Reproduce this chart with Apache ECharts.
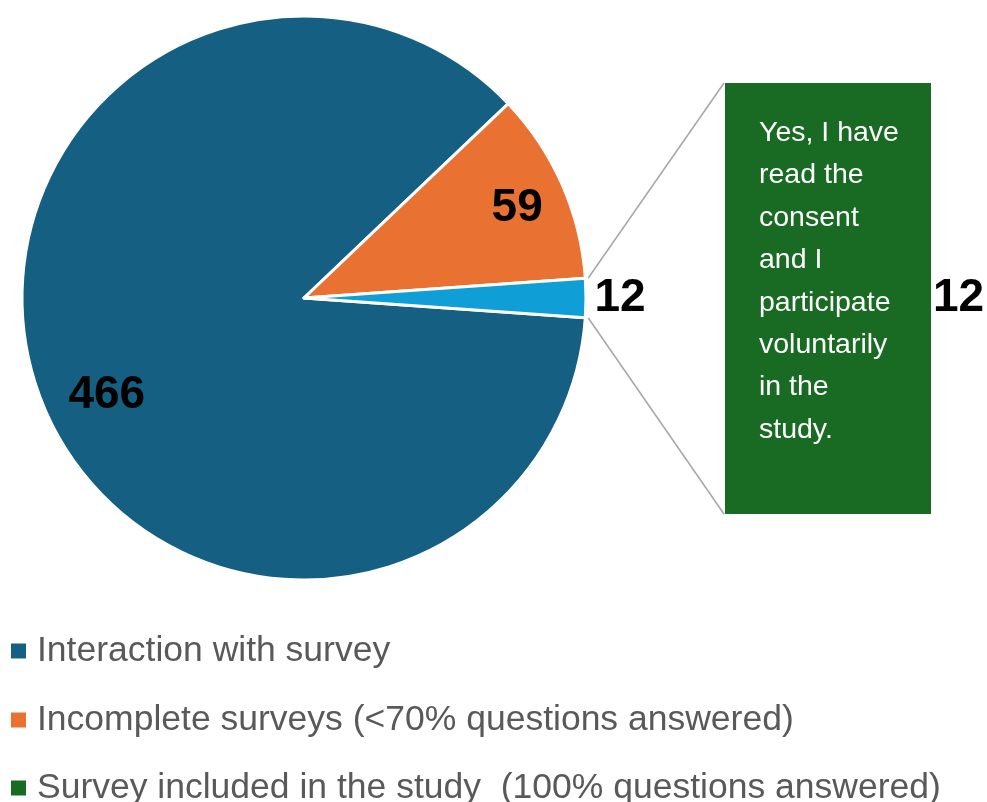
<!DOCTYPE html>
<html>
<head>
<meta charset="utf-8">
<script src="https://cdn.jsdelivr.net/npm/echarts@6/dist/echarts.min.js"></script>
<style>
  html, body { margin: 0; padding: 0; background: #ffffff; }
  #chart { width: 987px; height: 802px; }
</style>
</head>
<body>
<div id="chart"></div>
<script>
// Survey funnel: pie of all interactions, with the included surveys broken out as a bar
const pieNames = ['Interaction with survey', 'Incomplete surveys (<70% questions answered)', 'Other'];
const pieValues = [466, 59, 12];
const consentLines = ['Yes, I have', 'read the', 'consent', 'and I', 'participate', 'voluntarily', 'in the', 'study.'];
const barCategories = [consentLines.join(' ')];
const barValues = [12];
const barSeriesName = 'Survey included in the study  (100% questions answered)';
const legendNames = [pieNames[0], pieNames[1], barSeriesName];

const colors = {
  blue: '#156082', orange: '#E97132', green: '#196B24', light: '#0F9ED5',
  connector: '#a6a6a6', legendText: '#595959'
};
const FONT = '"Liberation Sans", Arial, sans-serif';

// Layout of the pie and of the bar panel
const cx = 304, cy = 298, R = 282;
const barGrid = { left: 725, top: 83, width: 206, height: 431 };
// Vertical centres of the stacked legend rows
const legendRowY = [648, 717, 785];

// Angles: the broken-out slice sits centred on the horizontal axis at the right
const total = pieValues.reduce((a, b) => a + b, 0);
const lastSpan = 360 * pieValues[pieValues.length - 1] / total;
const startAngle = -lastSpan / 2;
const midAngles = [];
let cum = 0;
pieValues.forEach(v => {
  midAngles.push(startAngle - (cum + v / 2) / total * 360);
  cum += v;
});

// Per-slice label placement: angular shift (deg), radial fraction, alignment
const labelPlace = [
  { shift: 6.5, frac: 0.78, align: 'center' },
  { shift: -1, frac: 0.82, align: 'center' },
  { shift: 0, frac: 1.03, align: 'left' }
];

const rad = d => d * Math.PI / 180;
const polar = (deg, r) => [cx + r * Math.cos(rad(deg)), cy - r * Math.sin(rad(deg))];

// Connector lines from the broken-out slice edges to the bar corners
const edgeTop = polar(startAngle + lastSpan, R + 3);
const edgeBottom = polar(startAngle, R + 3);
const barTopLeft = [barGrid.left - 1, barGrid.top];
const barBottomLeft = [barGrid.left - 1, barGrid.top + barGrid.height];

// One legend row per entry, stacked down the left edge
const legends = legendNames.map((name, i) => ({
  data: [name],
  orient: 'vertical',
  left: 11,
  top: legendRowY[i] - 15,
  padding: 0,
  itemWidth: 15,
  itemHeight: 15,
  icon: 'rect',
  selectedMode: false,
  itemStyle: { borderWidth: 0 },
  textStyle: {
    fontFamily: FONT,
    fontSize: 35.5,
    lineHeight: 30,
    color: colors.legendText,
    padding: [0, 0, 0, 6]
  }
}));

const chart = echarts.init(document.getElementById('chart'), null, { renderer: 'canvas' });
chart.setOption({
  animation: false,
  backgroundColor: '#ffffff',
  legend: legends,
  grid: Object.assign({ containLabel: false }, barGrid),
  xAxis: { type: 'category', data: barCategories, show: false },
  yAxis: { type: 'value', min: 0, max: 12, show: false },
  series: [
    {
      type: 'pie',
      center: [cx, cy],
      radius: [0, R],
      startAngle: startAngle,
      clockwise: true,
      avoidLabelOverlap: false,
      itemStyle: { borderColor: '#ffffff', borderWidth: 3 },
      label: {
        show: true,
        position: 'inside',
        formatter: '{c}',
        fontFamily: FONT,
        fontSize: 46,
        fontWeight: 'bold',
        color: '#000000'
      },
      labelLine: { show: false },
      labelLayout: function (params) {
        const p = labelPlace[params.dataIndex];
        const pt = polar(midAngles[params.dataIndex] + p.shift, R * p.frac);
        return { x: pt[0], y: pt[1], align: p.align, verticalAlign: 'middle' };
      },
      emphasis: { disabled: true },
      data: pieNames.map((n, i) => ({
        name: n,
        value: pieValues[i],
        itemStyle: { color: [colors.blue, colors.orange, colors.light][i] }
      }))
    },
    {
      type: 'bar',
      name: barSeriesName,
      data: barValues,
      barWidth: '100%',
      itemStyle: { color: colors.green },
      label: {
        show: true,
        position: 'right',
        distance: 2,
        formatter: '{c}',
        fontFamily: FONT,
        fontSize: 46,
        fontWeight: 'bold',
        color: '#000000'
      },
      emphasis: { disabled: true }
    },
    {
      type: 'bar',
      name: 'consentText',
      data: barValues,
      barWidth: '100%',
      barGap: '-100%',
      silent: true,
      itemStyle: { color: 'rgba(0,0,0,0)' },
      label: {
        show: true,
        position: [34, 29],
        formatter: () => consentLines.join('\n'),
        fontFamily: FONT,
        fontSize: 28.5,
        lineHeight: 42.4,
        color: '#ffffff',
        align: 'left',
        verticalAlign: 'top'
      },
      emphasis: { disabled: true }
    }
  ],
  graphic: [
    {
      type: 'line',
      shape: { x1: edgeTop[0], y1: edgeTop[1], x2: barTopLeft[0], y2: barTopLeft[1] },
      style: { stroke: colors.connector, lineWidth: 1.5 },
      silent: true
    },
    {
      type: 'line',
      shape: { x1: edgeBottom[0], y1: edgeBottom[1], x2: barBottomLeft[0], y2: barBottomLeft[1] },
      style: { stroke: colors.connector, lineWidth: 1.5 },
      silent: true
    }
  ]
});
</script>
</body>
</html>
